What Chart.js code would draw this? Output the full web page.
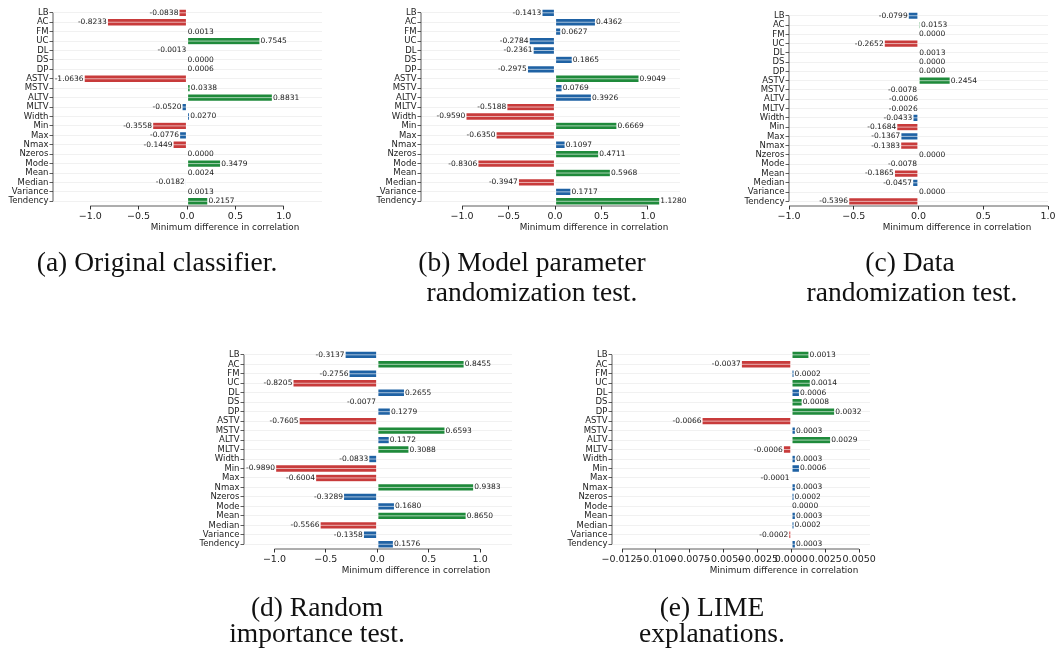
<!DOCTYPE html>
<html>
<head>
<meta charset="utf-8">
<script src="https://cdn.jsdelivr.net/npm/chart.js@4.4.1/dist/chart.umd.min.js"></script>
<style>
  html, body { margin: 0; padding: 0; background: #fff; overflow: hidden; }
  #fig { position: relative; width: 1056px; height: 649px; }
  canvas { position: absolute; }
  .xlabel { position: absolute; font: 8.8px "DejaVu Sans"; color: #222; transform: translate(-50%, -50%); white-space: nowrap; }
  .cap { position: absolute; font: 27.5px "Liberation Serif"; color: #111; transform: translate(-50%, -50%); white-space: nowrap; }
</style>
</head>
<body>
<div id="fig"></div>
<script>
// feature names, shared by all five panels
const features = ['LB', 'AC', 'FM', 'UC', 'DL', 'DS', 'DP', 'ASTV', 'MSTV', 'ALTV', 'MLTV',
    'Width', 'Min', 'Max', 'Nmax', 'Nzeros', 'Mode', 'Mean', 'Median', 'Variance', 'Tendency'];

// (a) original classifier
const valsA = [-0.0838, -0.8233, 0.0013, 0.7545, -0.0013, 0.0000, 0.0006, -1.0636, 0.0338, 0.8831, -0.0520,
    0.0270, -0.3558, -0.0776, -0.1449, 0.0000, 0.3479, 0.0024, -0.0182, 0.0013, 0.2157];
const colsA = ['r', 'r', 'g', 'g', 'b', 'b', 'b', 'r', 'g', 'g', 'b', 'b', 'r', 'b', 'r', 'b', 'g', 'b', 'b', 'b', 'g'];

// (b) model parameter randomization
const valsB = [-0.1413, 0.4362, 0.0627, -0.2784, -0.2361, 0.1865, -0.2975, 0.9049, 0.0769, 0.3926, -0.5188,
    -0.9590, 0.6669, -0.6350, 0.1097, 0.4711, -0.8306, 0.5968, -0.3947, 0.1717, 1.1280];
const colsB = ['b', 'b', 'b', 'b', 'b', 'b', 'b', 'g', 'b', 'b', 'r', 'r', 'g', 'r', 'b', 'g', 'r', 'g', 'r', 'b', 'g'];

// (c) data randomization
const valsC = [-0.0799, 0.0153, 0.0000, -0.2652, 0.0013, 0.0000, 0.0000, 0.2454, -0.0078, -0.0006, -0.0026,
    -0.0433, -0.1684, -0.1367, -0.1383, 0.0000, -0.0078, -0.1865, -0.0457, 0.0000, -0.5396];
const colsC = ['b', 'g', 'b', 'r', 'b', 'b', 'b', 'g', 'b', 'b', 'b', 'b', 'r', 'b', 'r', 'b', 'b', 'r', 'b', 'b', 'r'];

// (d) random importance
const valsD = [-0.3137, 0.8455, -0.2756, -0.8205, 0.2655, -0.0077, 0.1279, -0.7605, 0.6593, 0.1172, 0.3088,
    -0.0833, -0.9890, -0.6004, 0.9383, -0.3289, 0.1680, 0.8650, -0.5566, -0.1358, 0.1576];
const colsD = ['b', 'g', 'b', 'r', 'b', 'b', 'b', 'r', 'g', 'b', 'g', 'b', 'r', 'r', 'g', 'b', 'b', 'g', 'r', 'b', 'b'];

// (e) LIME
const valsE = [0.0013, -0.0037, 0.0002, 0.0014, 0.0006, 0.0008, 0.0032, -0.0066, 0.0003, 0.0029, -0.0006,
    0.0003, 0.0006, -0.0001, 0.0003, 0.0002, 0.0000, 0.0003, 0.0002, -0.0002, 0.0003];
const colsE = ['g', 'r', 'b', 'g', 'b', 'g', 'g', 'r', 'b', 'g', 'r', 'b', 'b', 'r', 'b', 'b', 'b', 'b', 'b', 'r', 'b'];

// x tick values
const ticksMain = [-1.0, -0.5, 0.0, 0.5, 1.0];
const ticksLime = [-0.0125, -0.0100, -0.0075, -0.0050, -0.0025, 0.0000, 0.0025, 0.0050];

const xTitle = 'Minimum difference in correlation';

const palette = { r: '#c83b3b', g: '#1f8a3b', b: '#1f62a4' };

Chart.defaults.font.family = '"DejaVu Sans"';
Chart.defaults.color = '#222';
Chart.defaults.animation = false;

// plot boxes in page pixels
const panels = [
    { vals: valsA, cols: colsA, ticks: ticksMain, dec: 1, box: [53, 322, 8, 206], min: -1.385, max: 1.395, title: [225, 227] },
    { vals: valsB, cols: colsB, ticks: ticksMain, dec: 1, box: [421, 680, 8, 206], min: -1.442, max: 1.345, title: [594, 227] },
    { vals: valsC, cols: colsC, ticks: ticksMain, dec: 1, box: [789, 1048, 11, 206], min: -1.0, max: 1.0, title: [957, 227] },
    { vals: valsD, cols: colsD, ticks: ticksMain, dec: 1, box: [244, 512, 350, 549], min: -1.296, max: 1.31, title: [416, 570] },
    { vals: valsE, cols: colsE, ticks: ticksLime, dec: 4, box: [612, 870, 350, 549], min: -0.01324, max: 0.0058, title: [784, 570] }
];

const captions = [
    ['(a) Original classifier.', 157, 262],
    ['(b) Model parameter', 532, 262], ['randomization test.', 532, 292],
    ['(c) Data', 910, 262], ['randomization test.', 912, 292],
    ['(d) Random', 317, 607], ['importance test.', 317, 633],
    ['(e) LIME', 712, 607], ['explanations.', 712, 633]
];

const Y_W = 60, X_H = 18, PAD_T = 6, PAD_R = 34;

// trimmed spines, white stripe through each bar, value labels
const decorPlugin = {
    id: 'decor',
    afterDatasetsDraw(chart) {
        const ctx = chart.ctx;
        const x = chart.scales.x, y = chart.scales.y;
        const area = chart.chartArea;
        const meta = chart.getDatasetMeta(0);
        const vals = chart.data.datasets[0].data;

        ctx.save();
        meta.data.forEach((bar, i) => {
            if (Math.abs(bar.x - bar.base) < 1) return;
            ctx.strokeStyle = 'rgba(255,255,255,0.6)';
            ctx.lineWidth = 1;
            ctx.beginPath();
            ctx.moveTo(bar.base, bar.y);
            ctx.lineTo(bar.x, bar.y);
            ctx.stroke();
        });

        ctx.font = '7.5px "DejaVu Sans"';
        ctx.fillStyle = '#222';
        ctx.textBaseline = 'middle';
        meta.data.forEach((bar, i) => {
            const v = vals[i];
            if (v < 0) {
                ctx.textAlign = 'right';
                ctx.fillText(v.toFixed(4), bar.x - 0.5, bar.y);
            } else {
                ctx.textAlign = 'left';
                ctx.fillText(v.toFixed(4), bar.x + 0.5, bar.y);
            }
        });

        ctx.strokeStyle = '#333';
        ctx.lineWidth = 0.8;
        ctx.beginPath();
        ctx.moveTo(area.left, y.getPixelForValue(0));
        ctx.lineTo(area.left, y.getPixelForValue(features.length - 1));
        const tks = chart.options.plugins.decor.ticks;
        ctx.moveTo(x.getPixelForValue(tks[0]), area.bottom);
        ctx.lineTo(x.getPixelForValue(tks[tks.length - 1]), area.bottom);
        ctx.stroke();
        ctx.restore();
    }
};

const fig = document.getElementById('fig');

panels.forEach(p => {
    const [l, r, t, b] = p.box;
    const canvas = document.createElement('canvas');
    const w = Y_W + (r - l) + PAD_R;
    const h = PAD_T + (b - t) + X_H;
    canvas.width = w;
    canvas.height = h;
    canvas.style.left = (l - Y_W) + 'px';
    canvas.style.top = (t - PAD_T) + 'px';
    canvas.style.width = w + 'px';
    canvas.style.height = h + 'px';
    fig.appendChild(canvas);

    new Chart(canvas, {
        type: 'bar',
        data: {
            labels: features,
            datasets: [{
                data: p.vals,
                backgroundColor: p.cols.map(c => palette[c]),
                borderColor: '#fff',
                borderWidth: 0.6,
                borderSkipped: false,
                categoryPercentage: 1.0,
                barPercentage: 0.8
            }]
        },
        options: {
            indexAxis: 'y',
            responsive: false,
            layout: { padding: { left: 0, top: PAD_T, right: PAD_R, bottom: 0 } },
            plugins: {
                legend: { display: false },
                tooltip: { enabled: false },
                decor: { ticks: p.ticks }
            },
            scales: {
                y: {
                    offset: true,
                    afterFit: s => { s.width = Y_W; },
                    border: { display: false },
                    grid: { offset: false, color: '#ededed', lineWidth: 0.8, tickColor: '#333', tickLength: 3.5 },
                    ticks: { padding: 1, font: { size: 8.5 }, color: '#222', autoSkip: false }
                },
                x: {
                    type: 'linear',
                    min: p.min,
                    max: p.max,
                    afterFit: s => { s.height = X_H; },
                    afterBuildTicks: s => { s.ticks = p.ticks.map(v => ({ value: v })); },
                    border: { display: false },
                    grid: { drawOnChartArea: false, tickColor: '#333', tickLength: 3.5 },
                    ticks: {
                        padding: 1,
                        font: { size: 9.5 },
                        color: '#222',
                        autoSkip: false,
                        maxRotation: 0,
                        callback: v => (v < 0 ? '\u2212' : '') + Math.abs(v).toFixed(p.dec)
                    }
                }
            }
        },
        plugins: [decorPlugin]
    });

    const lab = document.createElement('div');
    lab.className = 'xlabel';
    lab.textContent = xTitle;
    lab.style.left = p.title[0] + 'px';
    lab.style.top = p.title[1] + 'px';
    fig.appendChild(lab);
});

captions.forEach(([txt, cx, cy]) => {
    const d = document.createElement('div');
    d.className = 'cap';
    d.textContent = txt;
    d.style.left = cx + 'px';
    d.style.top = cy + 'px';
    fig.appendChild(d);
});
</script>
</body>
</html>
